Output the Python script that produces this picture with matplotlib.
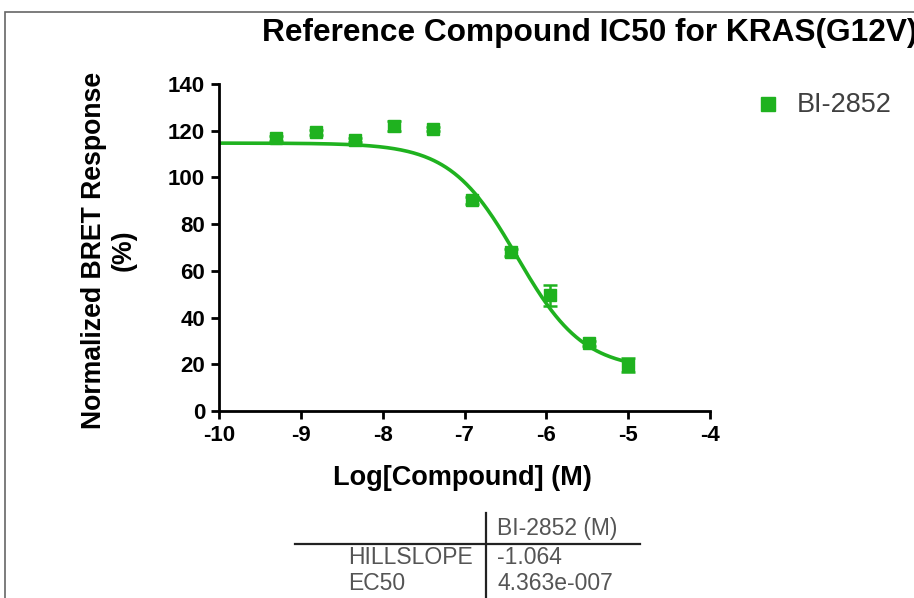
import matplotlib
matplotlib.use('Agg')

import matplotlib.pyplot as plt
from matplotlib.lines import Line2D
from matplotlib.patches import Rectangle
import numpy as np

plt.rcParams['font.family'] = ['Liberation Sans', 'DejaVu Sans']
plt.rcParams['axes.unicode_minus'] = False

# data
log_conc = [-9.30, -8.82, -8.34, -7.86, -7.39, -6.91, -6.43, -5.95, -5.48, -5.00]
response = [116.8, 119.3, 116.0, 122.0, 120.7, 90.3, 68.0, 49.5, 29.0, 19.5]
resp_err = [1.0, 1.0, 1.0, 2.2, 1.0, 1.5, 1.5, 4.5, 1.0, 3.0]

# fit parameters (top/bottom estimated, slope and EC50 from the table)
top = 114.7
bottom = 17.6
hillslope = -1.064
ec50 = 4.363e-7

series_name = "BI-2852"
table_rows = ["HILLSLOPE", "EC50"]
table_vals = ["-1.064", "4.363e-007"]

green = "#1fb21f"

fig = plt.figure(figsize=(9.14, 5.98), dpi=100)
ax = fig.add_axes([219/914, 1-411/598, 491/914, 327/598])

xfit = np.linspace(-10, -5, 300)
yfit = bottom + (top - bottom) / (1 + 10**((np.log10(ec50) - xfit) * hillslope))
ax.plot(xfit, yfit, color=green, lw=2.6, zorder=2)

ax.errorbar(log_conc, response, yerr=resp_err, fmt='s', color=green, ms=9,
            ecolor=green, elinewidth=1.8, capsize=5, capthick=1.8, zorder=3)

ax.set_xlim(-10, -4)
ax.set_ylim(0, 140)
ax.set_xticks(range(-10, -3))
ax.set_yticks(range(0, 141, 20))
for s in ['top', 'right']:
    ax.spines[s].set_visible(False)
for s in ['left', 'bottom']:
    ax.spines[s].set_linewidth(2.0)
ax.tick_params(width=2.0, length=6, labelsize=16, pad=4)
for lab in ax.get_xticklabels() + ax.get_yticklabels():
    lab.set_fontweight('bold')
ax.set_xlabel("Log[Compound] (M)", fontsize=19.5, fontweight='bold')
ax.xaxis.set_label_coords(0.495, -0.205)
ax.xaxis.label.set_va('center')
ax.set_ylabel("Normalized BRET Response\n(%)", fontsize=19.2, fontweight='bold')
ax.yaxis.set_label_coords(-0.224, 0.492)
ax.yaxis.label.set_va('center')

# legend
fig.add_artist(Line2D([768/914], [1-104/598], marker='s', color=green, ms=9.5, ls='none'))
fig.text(797/914, 1-105/598, series_name, fontsize=19.5, color='#404040', va='center')

# title (runs off the right edge, as in the original)
fig.text(262/914, 1-33/598, "Reference Compound IC50 for KRAS(G12V)", fontsize=22.8,
         fontweight='bold', va='center', ha='left')

# outer frame
fig.add_artist(Rectangle((5/914, -0.05), 1.2, 1-12/598+0.05, transform=fig.transFigure,
                         fill=False, ec='#666666', lw=1.2))

# results table
fig.add_artist(Line2D([486/914, 486/914], [1-513/598, 0], color='#222222', lw=1.6))
fig.add_artist(Line2D([295/914, 640/914], [1-544/598, 1-544/598], color='#222222', lw=1.6))
fig.text(497/914, 1-529/598, series_name + " (M)", fontsize=16.5, color='#555555', va='center')
for i, (r, v) in enumerate(zip(table_rows, table_vals)):
    yy = 1 - (558 + i*26)/598
    fig.text(348/914, yy, r, fontsize=16.5, color='#555555', va='center')
    fig.text(497/914, yy, v, fontsize=16.5, color='#555555', va='center')

fig.savefig("out.png", dpi=100)
